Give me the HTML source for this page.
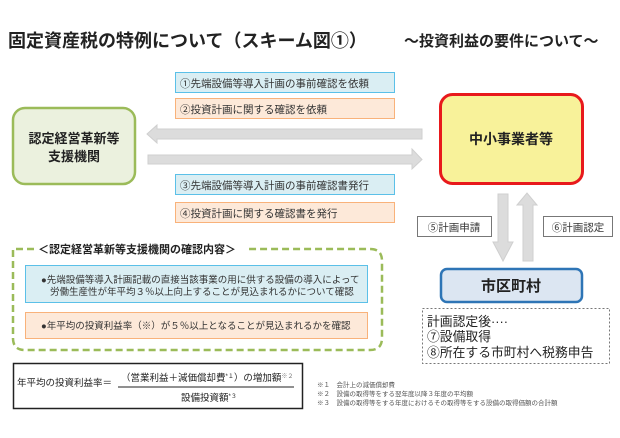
<!DOCTYPE html>
<html><head><meta charset="utf-8"><style>
html,body{margin:0;padding:0;background:#fff;}
svg{display:block;font-family:"Liberation Sans","Noto Sans CJK JP",sans-serif;}
</style></head><body>
<svg width="620" height="438" viewBox="0 0 620 438" xmlns="http://www.w3.org/2000/svg">
<text x="8" y="47" font-size="18" font-weight="bold" fill="#222">固定資産税の特例について（スキーム図①）</text>
<text x="404" y="46" font-size="15" font-weight="bold" fill="#222">～投資利益の要件について～</text>

<rect x="175.5" y="72.5" width="219" height="20" fill="#daeef3" stroke="#5bc0e8"/>
<text x="180" y="87" font-size="10.5" fill="#333">①先端設備等導入計画の事前確認を依頼</text>
<rect x="175.5" y="98.5" width="219" height="20" fill="#fde9d9" stroke="#f9b27a"/>
<text x="180" y="113" font-size="10.5" fill="#333">②投資計画に関する確認を依頼</text>
<rect x="175.5" y="174.5" width="219" height="20" fill="#daeef3" stroke="#5bc0e8"/>
<text x="180" y="189" font-size="10.5" fill="#333">③先端設備等導入計画の事前確認書発行</text>
<rect x="175.5" y="202.5" width="219" height="20" fill="#fde9d9" stroke="#f9b27a"/>
<text x="180" y="217" font-size="10.5" fill="#333">④投資計画に関する確認書を発行</text>

<polygon points="147,134 157,125 157,129 422,129 422,139 157,139 157,143" fill="#dcdcdc" stroke="#cfcfcf"/>
<polygon points="148,155 412,155 412,149 422,159.5 412,169 412,164 148,164" fill="#dcdcdc" stroke="#cfcfcf"/>

<rect x="13" y="108" width="122" height="76" rx="12" fill="#ebf1de" stroke="#9bbb59" stroke-width="2.5"/>
<text x="74" y="143" font-size="13" font-weight="bold" text-anchor="middle" fill="#222">認定経営革新等</text>
<text x="74" y="161" font-size="13" font-weight="bold" text-anchor="middle" fill="#222">支援機関</text>

<rect x="440.5" y="94.5" width="142" height="89" rx="12" fill="#f8f29a" stroke="#e8191c" stroke-width="3"/>
<text x="511" y="144" font-size="14" font-weight="bold" text-anchor="middle" fill="#222">中小事業者等</text>

<polygon points="498,194 508,194 508,242 513,242 503,261 493,242 498,242" fill="#dcdcdc" stroke="#cfcfcf"/>
<polygon points="523,261 533,261 533,205 537,205 527,193 517,205 523,205" fill="#dcdcdc" stroke="#cfcfcf"/>
<rect x="417.5" y="216.5" width="74" height="20" fill="#fff" stroke="#777"/>
<text x="454" y="231" font-size="10.5" text-anchor="middle" fill="#333">⑤計画申請</text>
<rect x="543.5" y="216.5" width="69" height="20" fill="#fff" stroke="#777"/>
<text x="578" y="231" font-size="10.5" text-anchor="middle" fill="#333">⑥計画認定</text>

<rect x="441" y="269" width="141" height="33" rx="6" fill="#dce6f2" stroke="#2e75b6" stroke-width="2.5"/>
<text x="511" y="291" font-size="15" font-weight="bold" text-anchor="middle" fill="#222">市区町村</text>

<rect x="422.5" y="308.5" width="187" height="55" fill="none" stroke="#777" stroke-dasharray="2,2"/>
<text x="427" y="326" font-size="12.8" fill="#222">計画認定後····</text>
<text x="427" y="341" font-size="12.8" fill="#222">⑦設備取得</text>
<text x="427" y="357" font-size="12.8" fill="#222">⑧所在する市町村へ税務申告</text>

<path d="M34 249 H13 V338 Q13 350 25 350 H370 Q382 350 382 338 V261 Q382 249 370 249 H246" fill="none" stroke="#9bbb59" stroke-width="2.5" stroke-dasharray="7,4"/>
<text x="38" y="253" font-size="11" font-weight="bold" fill="#222">＜認定経営革新等支援機関の確認内容＞</text>

<rect x="25.5" y="265.5" width="342" height="37" fill="#daeef3" stroke="#5bc0e8"/>
<text x="41" y="283" font-size="9.5" fill="#333">●先端設備等導入計画記載の直接当該事業の用に供する設備の導入によって</text>
<text x="50" y="295" font-size="9.5" fill="#333">労働生産性が年平均３％以上向上することが見込まれるかについて確認</text>
<rect x="25.5" y="312.5" width="342" height="26" fill="#fde9d9" stroke="#f9b27a"/>
<text x="41" y="329" font-size="9.5" fill="#333">●年平均の投資利益率（※）が５％以上となることが見込まれるかを確認</text>

<rect x="13.5" y="363.5" width="289" height="45" fill="#fff" stroke="#222" stroke-width="1.5"/>
<text x="17" y="386" font-size="9.5" fill="#222">年平均の投資利益率＝</text>
<line x1="118" y1="387" x2="294" y2="387" stroke="#222" stroke-width="1"/>
<text x="121" y="381" font-size="9.5" fill="#222">（営業利益＋減価償却費<tspan font-size="6" dy="-3">*１</tspan><tspan dy="3">）の増加額</tspan><tspan font-size="6" dy="-3" fill="#777">※２</tspan></text>
<text x="181" y="401" font-size="9.5" fill="#222">設備投資額<tspan font-size="6" dy="-3">*３</tspan></text>

<text x="317" y="387" font-size="6.5" fill="#555">※１　会計上の減価償却費</text>
<text x="317" y="396" font-size="6.5" fill="#555">※２　設備の取得等をする翌年度以降３年度の平均額</text>
<text x="317" y="405" font-size="6.5" fill="#555">※３　設備の取得等をする年度におけるその取得等をする設備の取得価額の合計額</text>
</svg>
</body></html>
